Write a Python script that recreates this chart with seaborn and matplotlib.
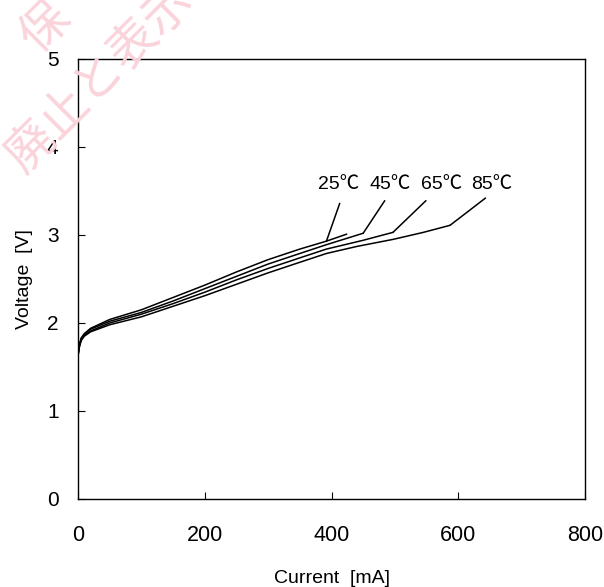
import numpy as np
import pandas as pd
import matplotlib
matplotlib.use("Agg")
import matplotlib.pyplot as plt
import seaborn as sns

# ---- data ----
current_25 = [0, 2, 5, 10, 20, 50, 100, 150, 200, 250, 300, 350, 392, 424]
voltage_25 = [1.64, 1.75, 1.83, 1.88, 1.94, 2.04, 2.15, 2.29, 2.43, 2.58, 2.72, 2.84, 2.93, 3.01]

current_45 = [0, 2, 5, 10, 20, 50, 100, 150, 200, 250, 300, 350, 392, 450]
voltage_45 = [1.64, 1.74, 1.82, 1.87, 1.93, 2.02, 2.12, 2.25, 2.39, 2.53, 2.67, 2.79, 2.89, 3.02]

current_65 = [0, 2, 5, 10, 20, 50, 100, 150, 200, 250, 300, 350, 392, 450, 497]
voltage_65 = [1.63, 1.73, 1.81, 1.86, 1.91, 2.00, 2.10, 2.22, 2.35, 2.49, 2.62, 2.74, 2.84, 2.94, 3.03]

current_85 = [0, 2, 5, 10, 20, 50, 100, 150, 200, 250, 300, 350, 392, 440, 497, 545, 587]
voltage_85 = [1.62, 1.72, 1.80, 1.85, 1.90, 1.98, 2.07, 2.19, 2.31, 2.44, 2.57, 2.69, 2.79, 2.87, 2.95, 3.03, 3.11]

series_labels = ["25℃", "45℃", "65℃", "85℃"]
# label anchor (current, voltage) and leader end points
label_pos = [(412, 3.57), (492, 3.57), (573, 3.57), (653, 3.57)]
leader_start = [(413, 3.36), (484, 3.39), (549, 3.39), (643, 3.42)]
leader_end = [(392, 2.93), (450, 3.02), (497, 3.03), (587, 3.11)]

x_ticks = [0, 200, 400, 600, 800]
y_ticks = [0, 1, 2, 3, 4, 5]

frames = []
for lab, c, v in zip(series_labels,
                     [current_25, current_45, current_65, current_85],
                     [voltage_25, voltage_45, voltage_65, voltage_85]):
    frames.append(pd.DataFrame({"Current": c, "Voltage": v, "Temp": lab}))
df = pd.concat(frames, ignore_index=True)

sns.set_theme(style="white")
fams = ["Liberation Sans", "Noto Sans CJK JP", "DejaVu Sans"]
plt.rcParams["font.family"] = fams

fig = plt.figure(figsize=(6.04, 5.87), dpi=100)
ax = fig.add_axes([78 / 604, 1 - 499 / 587, (585 - 78) / 604, (499 - 59) / 587])

sns.lineplot(data=df, x="Current", y="Voltage", hue="Temp",
             palette=["black"] * 4, linewidth=1.1, legend=False,
             sort=False, estimator=None, ax=ax)

for lab, lp, ls, le in zip(series_labels, label_pos, leader_start, leader_end):
    ax.plot([ls[0], le[0]], [ls[1], le[1]], color="black", lw=1.1, clip_on=False)
    ax.text(lp[0], lp[1], lab, ha="center", va="center", fontsize=14,
            color="black", family=fams)

ax.set_xlim(0, 800)
ax.set_ylim(0, 5)
ax.set_xticks(x_ticks)
ax.set_yticks(y_ticks)
ax.tick_params(axis="x", direction="in", length=5, width=0.8, pad=19,
               labelsize=15.5, bottom=True, top=False, colors="black")
ax.tick_params(axis="y", direction="in", length=5, width=0.8, pad=14,
               labelsize=15, left=True, right=False, colors="black")
ax.set_xlabel("Current  [mA]", fontsize=14, labelpad=17, color="black")
ax.set_ylabel("Voltage  [V]", fontsize=14, labelpad=10, color="black")
for s in ax.spines.values():
    s.set_color("black")
    s.set_linewidth(1.0)

# pale pink watermark in top-left corner
wm_kw = dict(color="#fad3db", fontsize=35, rotation=45,
             family=["Noto Sans CJK JP"], ha="center", va="center", zorder=0)
fig.text(100 / 604, 1 - 78 / 587, "廃止と表示", **wm_kw)
fig.text(46 / 604, 1 - 27 / 587, "保", **wm_kw)

fig.savefig("out.png", dpi=100, facecolor="white")
